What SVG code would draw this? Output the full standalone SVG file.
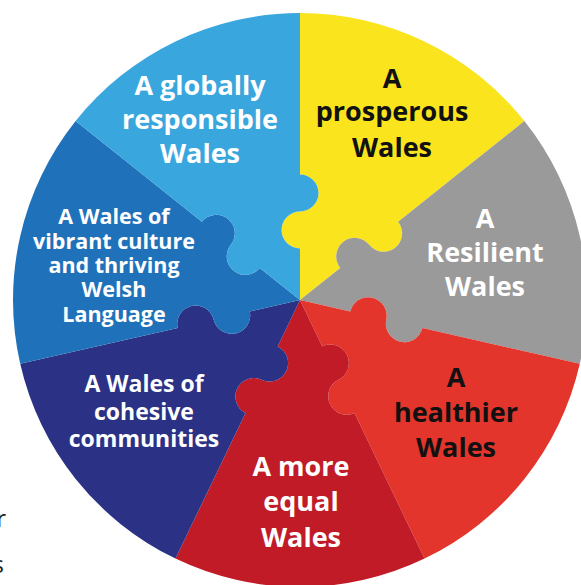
<svg xmlns="http://www.w3.org/2000/svg" width="581" height="585" viewBox="0 0 581 585">
<style>
.lbl{font-family:"Open Sans",Lato,"Liberation Sans",sans-serif;font-weight:bold;text-anchor:middle}
.w{fill:#ffffff}
.k{fill:#111111}
.big{font-size:27px}
.mid{font-size:23px}
.sm{font-size:21.5px}
.frag{font-family:"Open Sans","Liberation Sans",sans-serif;font-size:24px;fill:#222222;text-anchor:end}
</style>
<rect width="581" height="585" fill="#ffffff"/>
<g id="connectors"></g>
<g id="prosperous">
<path fill="#FAE41E" d="M300 300 L300 248.5 A18.5 18.5 0 0 1 300 211.5 A18.5 18.5 0 0 0 300 174.5 L300 13 A287 287 0 0 1 524.39 121.06 L398.12 221.75 A18.5 18.5 0 0 1 369.19 244.82 A18.5 18.5 0 0 0 340.26 267.89 Z"/>
<text class="lbl k big" x="392" y="88">A</text>
<text class="lbl k big" x="392" y="121">prosperous</text>
<text class="lbl k big" x="392" y="157">Wales</text>
</g>
<g id="resilient">
<path fill="#9A9A9A" d="M300 300 L340.26 267.89 A18.5 18.5 0 0 1 369.19 244.82 A18.5 18.5 0 0 0 398.12 221.75 L524.39 121.06 A287 287 0 0 1 579.80 363.86 L422.35 327.93 A18.5 18.5 0 0 1 386.28 319.69 A18.5 18.5 0 0 0 350.21 311.46 Z"/>
<text class="lbl w big" x="485" y="228">A</text>
<text class="lbl w big" x="485" y="262">Resilient</text>
<text class="lbl w big" x="485" y="296">Wales</text>
</g>
<g id="healthier">
<path fill="#E3352B" d="M300 300 L350.21 311.46 A18.5 18.5 0 0 1 386.28 319.69 A18.5 18.5 0 0 0 422.35 327.93 L579.80 363.86 A287 287 0 0 1 424.52 558.58 L354.45 413.07 A18.5 18.5 0 0 1 338.40 379.74 A18.5 18.5 0 0 0 322.34 346.40 Z"/>
<text class="lbl k big" x="456" y="387">A</text>
<text class="lbl k big" x="456" y="422">healthier</text>
<text class="lbl k big" x="456" y="457">Wales</text>
</g>
<g id="equal">
<path fill="#C01B27" d="M300 300 L322.34 346.40 A18.5 18.5 0 0 1 338.40 379.74 A18.5 18.5 0 0 0 354.45 413.07 L424.52 558.58 A287 287 0 0 1 175.48 558.58 L245.55 413.07 A18.5 18.5 0 0 1 261.60 379.74 A18.5 18.5 0 0 0 277.66 346.40 Z"/>
<text class="lbl w big" x="301" y="476">A more</text>
<text class="lbl w big" x="301" y="511">equal</text>
<text class="lbl w big" x="301" y="547">Wales</text>
</g>
<g id="cohesive">
<path fill="#2B3286" d="M300 300 L277.66 346.40 A18.5 18.5 0 0 1 261.60 379.74 A18.5 18.5 0 0 0 245.55 413.07 L175.48 558.58 A287 287 0 0 1 20.20 363.86 L177.65 327.93 A18.5 18.5 0 0 1 213.72 319.69 A18.5 18.5 0 0 0 249.79 311.46 Z"/>
<text class="lbl w mid" x="144" y="392">A Wales of</text>
<text class="lbl w mid" x="144" y="420">cohesive</text>
<text class="lbl w mid" x="144" y="447">communities</text>
</g>
<g id="culture">
<path fill="#1F72BA" d="M300 300 L249.79 311.46 A18.5 18.5 0 0 1 213.72 319.69 A18.5 18.5 0 0 0 177.65 327.93 L20.20 363.86 A287 287 0 0 1 75.61 121.06 L201.88 221.75 A18.5 18.5 0 0 1 230.81 244.82 A18.5 18.5 0 0 0 259.74 267.89 Z"/>
<text class="lbl w sm" x="114" y="224">A Wales of</text>
<text class="lbl w sm" x="114" y="249">vibrant culture</text>
<text class="lbl w sm" x="114" y="273">and thriving</text>
<text class="lbl w sm" x="114" y="297">Welsh</text>
<text class="lbl w sm" x="114" y="322">Language</text>
</g>
<g id="globally">
<path fill="#3AA6DE" d="M300 300 L259.74 267.89 A18.5 18.5 0 0 1 230.81 244.82 A18.5 18.5 0 0 0 201.88 221.75 L75.61 121.06 A287 287 0 0 1 300 13 L300 174.5 A18.5 18.5 0 0 1 300 211.5 A18.5 18.5 0 0 0 300 248.5 Z"/>
<text class="lbl w big" x="200" y="95">A globally</text>
<text class="lbl w big" x="200" y="129">responsible</text>
<text class="lbl w big" x="200" y="163">Wales</text>
</g>
<text class="frag" x="6" y="527">r</text>
<text class="frag" x="4" y="573">s</text>
</svg>
